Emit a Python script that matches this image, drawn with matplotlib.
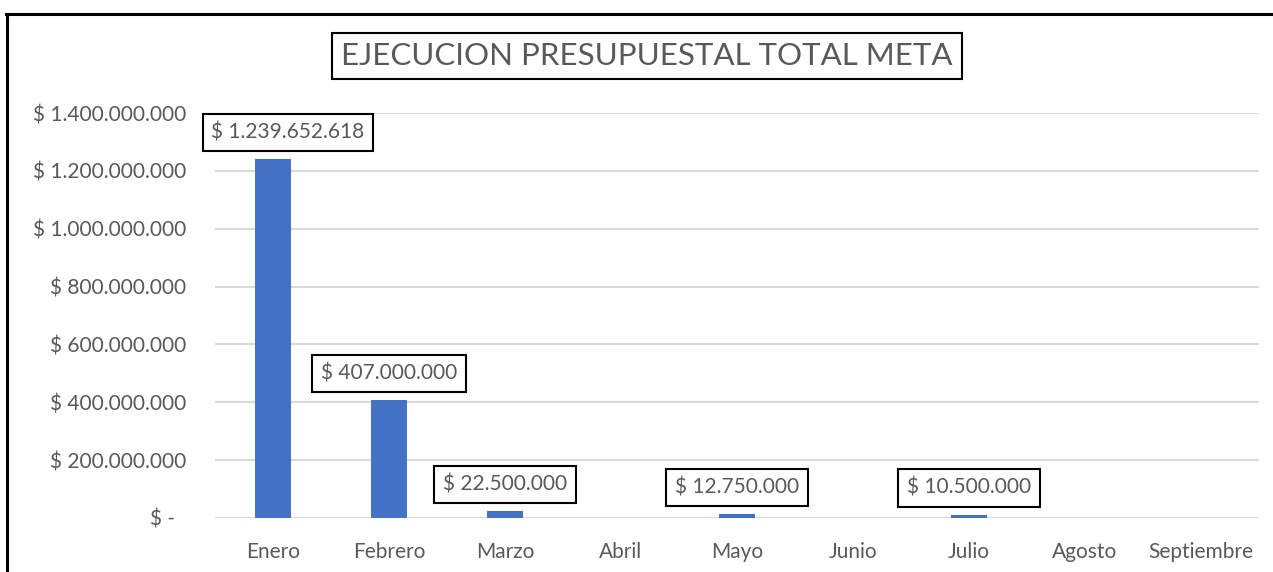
import matplotlib
matplotlib.use("Agg")
import matplotlib.pyplot as plt
from matplotlib.lines import Line2D
from matplotlib.ticker import FixedLocator

plt.rcParams['font.family'] = ['Lato', 'DejaVu Sans']

months = ["Enero", "Febrero", "Marzo", "Abril", "Mayo", "Junio", "Julio", "Agosto", "Septiembre"]
values = [1239652618, 407000000, 22500000, 0, 12750000, 0, 10500000, 0, 0]
labels = ["$ 1.239.652.618", "$ 407.000.000", "$ 22.500.000", None, "$ 12.750.000", None, "$ 10.500.000", None, None]
yticks = [0, 200000000, 400000000, 600000000, 800000000, 1000000000, 1200000000, 1400000000]
ytick_labels = ["$ -  ", "$ 200.000.000", "$ 400.000.000", "$ 600.000.000", "$ 800.000.000",
                "$ 1.000.000.000", "$ 1.200.000.000", "$ 1.400.000.000"]
title = "EJECUCION PRESUPUESTAL TOTAL META"

W, H = 1273, 572
fig = plt.figure(figsize=(W / 100, H / 100), dpi=100)
ax = fig.add_axes([215 / W, 1 - 518 / H, (1259 - 215) / W, (518 - 113) / H])

text_color = "#595959"
x = list(range(len(months)))
ax.bar(x, values, width=0.31, color="#4472C4", zorder=3)
ax.set_xlim(-0.5, len(months) - 0.5)
ax.set_ylim(0, 1400000000)
ax.yaxis.set_major_locator(FixedLocator(yticks))
ax.set_yticklabels(ytick_labels)
ax.set_xticks(x)
ax.set_xticklabels(months)
ax.tick_params(axis="both", length=0, labelsize=15, labelcolor=text_color)
ax.tick_params(axis="y", pad=21)
ax.tick_params(axis="x", pad=17)
ax.grid(axis="y", color="#D9D9D9", linewidth=1.5, zorder=0)
for s in ax.spines.values():
    s.set_visible(False)

for i, (xi, v, lab) in enumerate(zip(x, values, labels)):
    if lab is None:
        continue
    dx = 15 if i == 0 else 0
    ax.annotate(lab, (xi, v), xytext=(dx, 27), textcoords="offset pixels",
                ha="center", va="center", fontsize=15, color=text_color,
                bbox=dict(boxstyle="square,pad=0.42", fc="white", ec="black", lw=1.5),
                zorder=5)

fig.text(647 / W, 1 - 56 / H, title, ha="center", va="center", fontsize=22.5,
         color=text_color,
         bbox=dict(boxstyle="square,pad=0.3", fc="white", ec="black", lw=1.5))

# outer chart frame
fig.add_artist(Line2D([6 / W, 1.0], [1 - 14 / H, 1 - 14 / H], transform=fig.transFigure, color="black", lw=2.2))
fig.add_artist(Line2D([7 / W, 7 / W], [1 - 14 / H, 0], transform=fig.transFigure, color="black", lw=2.2))

fig.savefig("out.png", dpi=100)
